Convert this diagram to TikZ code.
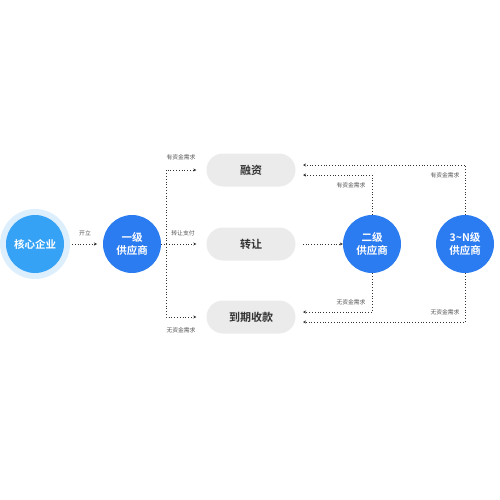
\documentclass[tikz,border=0pt]{standalone}
\usepackage{fontspec}
\setmainfont{Noto Sans CJK SC}
\newfontfamily\cjkb{Noto Sans CJK SC Bold}
\usetikzlibrary{arrows.meta}
\definecolor{core}{HTML}{35A2F6}
\definecolor{ring}{HTML}{DDEFFD}
\definecolor{sup}{HTML}{2C7CF1}
\definecolor{boxg}{HTML}{EBEBEB}
\definecolor{txt}{HTML}{333333}
\definecolor{lbl}{HTML}{555555}
\tikzset{
  circ/.style={circle,fill=sup,minimum size=58pt,inner sep=0pt,text=white,font=\cjkb\fontsize{10.5}{13}\selectfont,align=center},
  pill/.style={rounded corners=16.5pt,fill=boxg,minimum width=89pt,minimum height=33pt,inner sep=0pt,text=txt,font=\cjkb\fontsize{11}{13}\selectfont},
  conn/.style={draw=txt,line width=0.8pt,dotted,-{Stealth[length=3pt,width=3pt]}},
  lab/.style={text=lbl,font=\fontsize{5.8}{7}\selectfont,inner sep=0pt}
}
\begin{document}
\begin{tikzpicture}[x=1pt,y=-1pt]
\useasboundingbox (0,0) rectangle (500,500);
\fill[ring] (35,244) circle (35);
\node[circ,fill=core] (core) at (35,244) {核心企业};
\node[circ] (s1) at (132,244) {一级\\供应商};
\node[circ] (s2) at (372,244) {二级\\供应商};
\node[circ] (s3) at (465,244) {3\textasciitilde N级\\供应商};
\node[pill] (rz) at (251,170) {融资};
\node[pill] (zr) at (251,244) {转让};
\node[pill] (dq) at (251,317) {到期收款};
\coordinate (j) at (166,244);
\draw[conn] (72,244) -- (97,244);
\node[lab] at (85,233) {开立};
\draw[conn,-] (s1.east) -- (j);
\draw[conn] (j) |- ([xshift=-10pt]rz.west);
\draw[conn] (j) -- ([xshift=-10pt]zr.west);
\draw[conn] (j) |- ([xshift=-10pt]dq.west);
\node[lab] at (181,157) {有资金需求};
\node[lab] at (183,233) {转让支付};
\node[lab] at (181,330) {无资金需求};
\draw[conn] ([xshift=7pt]zr.east) -- (s2.west);
\draw[conn] (s2.north) |- (303,175);
\draw[conn] (s3.north) |- (303,165);
\draw[conn] (s2.south) |- (303,312);
\draw[conn] (s3.south) |- (303,322);
\node[lab] at (351,185) {有资金需求};
\node[lab] at (445,175) {有资金需求};
\node[lab] at (351,302) {无资金需求};
\node[lab] at (445,312) {无资金需求};
\end{tikzpicture}
\end{document}
